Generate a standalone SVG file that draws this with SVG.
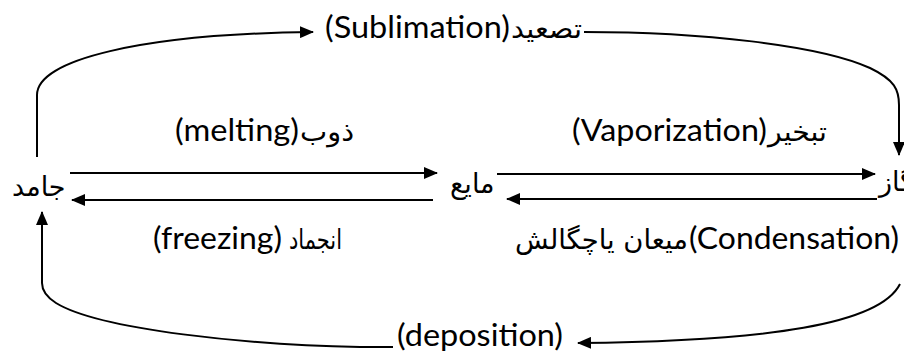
<svg xmlns="http://www.w3.org/2000/svg" width="904" height="353" viewBox="0 0 904 353">
<style>
.en{font-family:Lato,"DejaVu Sans",sans-serif;font-size:30px;fill:#000}
.ar{font-family:"DejaVu Sans",sans-serif;font-size:27px;fill:#000}
.ln{fill:none;stroke:#000;stroke-width:2}
</style>
<defs>
<marker id="ah" viewBox="0 0 14 12" refX="13" refY="6" markerWidth="14" markerHeight="12" markerUnits="userSpaceOnUse" orient="auto">
<path d="M0,0 L14,6 L0,12 Z" fill="#000"/>
</marker>
</defs>
<rect width="904" height="353" fill="#fff"/>
<g id="solid"><text class="ar" x="12" y="196">جامد</text></g>
<g id="liquid"><text class="ar" x="450" y="193">مايع</text></g>
<g id="gas"><text class="ar" x="879" y="191">گاز</text></g>
<g id="connectors">
<path class="ln" marker-end="url(#ah)" d="M70,173 L437,173"/>
<path class="ln" marker-end="url(#ah)" d="M433,200 L72,200"/>
<path class="ln" marker-end="url(#ah)" d="M497,174 L875,174"/>
<path class="ln" marker-end="url(#ah)" d="M877,199 L507,199"/>
<path class="ln" marker-end="url(#ah)" d="M37,157 L37,95 C37,60 140,34 313,32"/>
<path class="ln" marker-end="url(#ah)" d="M584,32 C700,32 820,45 870,68 C895,80 899,90 899,105 L899,155"/>
<path class="ln" d="M393,347 L360,347 C250,345 100,330 56,303 C45,296 42,290 42,283 L42,225"/>
<path class="ln" marker-end="url(#ah)" d="M42,230 L42,212"/>
<path class="ln" marker-end="url(#ah)" d="M900,284 C880,324 770,341 578,343"/>
</g>
<g id="lbl-sublimation">
<text class="en" x="325" y="38" textLength="185" lengthAdjust="spacingAndGlyphs">(Sublimation)</text>
<text class="ar" x="511" y="38" textLength="71" lengthAdjust="spacingAndGlyphs">تصعيد</text>
</g>
<g id="lbl-melting">
<text class="en" x="175" y="141" textLength="124" lengthAdjust="spacingAndGlyphs">(melting)</text>
<text class="ar" x="300" y="141" textLength="54" lengthAdjust="spacingAndGlyphs">ذوب</text>
</g>
<g id="lbl-vaporization">
<text class="en" x="572" y="141" textLength="195" lengthAdjust="spacingAndGlyphs">(Vaporization)</text>
<text class="ar" x="768" y="141" textLength="59" lengthAdjust="spacingAndGlyphs">تبخير</text>
</g>
<g id="lbl-freezing">
<text class="en" x="153" y="249" textLength="129" lengthAdjust="spacingAndGlyphs">(freezing)</text>
<text class="ar" x="289" y="249" textLength="53" lengthAdjust="spacingAndGlyphs">انجماد</text>
</g>
<g id="lbl-condensation">
<text class="ar" x="515" y="249" textLength="173" lengthAdjust="spacingAndGlyphs">میعان یاچگالش</text>
<text class="en" x="689" y="249" textLength="210" lengthAdjust="spacingAndGlyphs">(Condensation)</text>
</g>
<g id="lbl-deposition">
<text class="en" x="397" y="346" textLength="166" lengthAdjust="spacingAndGlyphs">(deposition)</text>
</g>
</svg>
